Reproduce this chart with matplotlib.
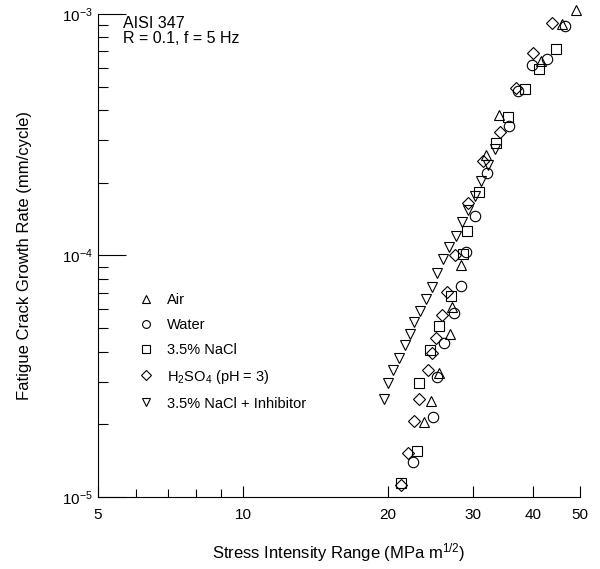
import matplotlib
matplotlib.use("Agg")
import matplotlib.pyplot as plt
from matplotlib.ticker import NullFormatter

plt.rcParams["font.family"] = ["Liberation Sans", "DejaVu Sans"]
plt.rcParams["mathtext.fontset"] = "custom"
plt.rcParams["mathtext.rm"] = "Liberation Sans"
plt.rcParams["mathtext.it"] = "Liberation Sans:italic"
plt.rcParams["axes.unicode_minus"] = False

# Data (stress intensity range in MPa m^1/2, da/dN in mm/cycle)
air_dk = [49.1, 45.9, 41.5, 34.0, 31.9, 28.3, 27.1, 26.9, 25.5, 24.5, 23.7]
air_rate = [1.04e-3, 9.09e-4, 6.39e-4, 3.82e-4, 2.61e-4, 9.13e-5, 6.12e-5,
            4.73e-5, 3.26e-5, 2.50e-5, 2.04e-5]

water_dk = [46.5, 42.7, 39.8, 37.2, 35.6, 32.1, 30.3, 29.0, 28.3, 27.4, 26.1,
            25.3, 24.8, 22.5]
water_rate = [8.92e-4, 6.51e-4, 6.15e-4, 4.80e-4, 3.44e-4, 2.20e-4, 1.46e-4,
              1.03e-4, 7.48e-5, 5.78e-5, 4.34e-5, 3.14e-5, 2.14e-5, 1.40e-5]

nacl_dk = [44.6, 41.1, 38.5, 35.5, 33.5, 30.9, 29.1, 28.6, 27.0, 25.5, 24.4,
           23.2, 22.9, 21.3]
nacl_rate = [7.16e-4, 5.92e-4, 4.89e-4, 3.75e-4, 2.92e-4, 1.83e-4, 1.26e-4,
             1.01e-4, 6.80e-5, 5.11e-5, 4.06e-5, 2.96e-5, 1.55e-5, 1.14e-5]

h2so4_dk = [43.7, 40.0, 36.8, 34.1, 31.5, 29.3, 27.5, 26.5, 25.9, 25.1, 24.6,
            24.2, 23.2, 22.6, 22.0, 21.3]
h2so4_rate = [9.18e-4, 6.89e-4, 4.94e-4, 3.25e-4, 2.46e-4, 1.65e-4, 1.00e-4,
              7.06e-5, 5.67e-5, 4.55e-5, 3.95e-5, 3.36e-5, 2.55e-5, 2.06e-5,
              1.52e-5, 1.12e-5]

inhib_dk = [33.3, 32.2, 31.2, 30.3, 29.3, 28.5, 27.6, 26.7, 26.0, 25.3, 24.6,
            24.0, 23.3, 22.6, 22.2, 21.7, 21.1, 20.5, 20.0, 19.6]
inhib_rate = [2.76e-4, 2.37e-4, 2.03e-4, 1.76e-4, 1.54e-4, 1.38e-4, 1.20e-4,
              1.08e-4, 9.67e-5, 8.46e-5, 7.41e-5, 6.60e-5, 5.89e-5, 5.30e-5,
              4.73e-5, 4.26e-5, 3.76e-5, 3.36e-5, 2.96e-5, 2.55e-5]

fig = plt.figure(figsize=(6.0, 5.69), dpi=100)
ax = fig.add_axes([0.1633, 0.1265, 0.8034, 0.849])

style = dict(linestyle="none", markerfacecolor="none", markeredgecolor="black",
             markeredgewidth=0.8, markersize=7.5, clip_on=False)
ax.plot(air_dk, air_rate, marker="^", label="Air", **style)
ax.plot(water_dk, water_rate, marker="o", label="Water", **style)
ax.plot(nacl_dk, nacl_rate, marker="s", label="3.5% NaCl", **style)
ax.plot(h2so4_dk, h2so4_rate, marker="D", label="H$_2$SO$_4$ (pH = 3)",
        **{**style, "markersize": 6.5})
ax.plot(inhib_dk, inhib_rate, marker="v", label="3.5% NaCl + Inhibitor", **style)

ax.set_xscale("log")
ax.set_yscale("log")
ax.set_xlim(5, 50)
ax.set_ylim(1e-5, 1e-3)

ax.set_xticks([5, 10, 20, 30, 40, 50])
ax.set_xticklabels(["5", "10", "20", "30", "40", "50"])
ax.set_xticks([6, 7, 8, 9], minor=True)
ax.xaxis.set_minor_formatter(NullFormatter())
ax.tick_params(axis="x", which="major", direction="in", length=8, width=0.8,
               labelsize=11, pad=8)
ax.tick_params(axis="x", which="minor", direction="in", length=6, width=0.8)
ax.tick_params(axis="y", which="major", direction="in", length=20, width=0.8,
               labelsize=11)
ax.tick_params(axis="y", which="minor", direction="in", length=7, width=0.8)

for s in ["top", "right"]:
    ax.spines[s].set_visible(False)
for s in ["left", "bottom"]:
    ax.spines[s].set_linewidth(0.8)

ax.set_xlabel("Stress Intensity Range (MPa m$^{1/2}$)", fontsize=12, labelpad=14)
ax.set_ylabel("Fatigue Crack Growth Rate (mm/cycle)", fontsize=12, labelpad=22)

ax.text(0.052, 0.995, "AISI 347\nR = 0.1, f = 5 Hz", transform=ax.transAxes,
        fontsize=11.5, va="top", ha="left", linespacing=1.0)

leg = ax.legend(loc="upper left", bbox_to_anchor=(0.058, 0.45), frameon=False,
                fontsize=10.5, handlelength=1.0, handletextpad=0.9,
                labelspacing=0.75, markerscale=0.75)

fig.savefig("out.png", dpi=100)
